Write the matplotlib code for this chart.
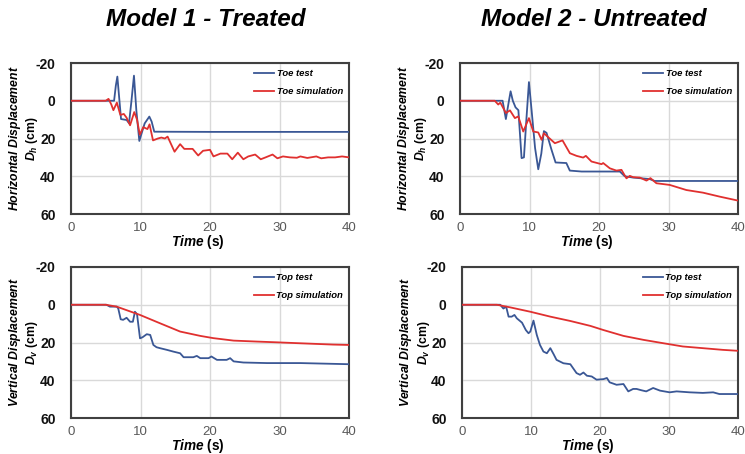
import matplotlib
matplotlib.use("Agg")
import matplotlib.pyplot as plt
from matplotlib import font_manager

names = {f.name for f in font_manager.fontManager.ttflist}
narrow = "Liberation Sans Narrow" if "Liberation Sans Narrow" in names else "Liberation Sans"

plt.rcParams['font.family'] = ['Liberation Sans', 'DejaVu Sans']
plt.rcParams['mathtext.fontset'] = 'custom'
plt.rcParams['mathtext.it'] = 'Liberation Sans:italic:bold'
plt.rcParams['mathtext.rm'] = 'Liberation Sans:bold'

# ---------------- data ----------------
titles = ["Model 1 - Treated", "Model 2 - Untreated"]
xticks = [0, 10, 20, 30, 40]
yticks = [-20, 0, 20, 40, 60]

# Model 1, toe (horizontal)
m1_toe_test_t = [0, 6.2, 6.45, 6.67, 6.9, 7.2, 8.0, 8.35, 8.7, 9.06, 9.4, 9.83, 10.1, 10.6, 11.27, 11.6, 11.98, 20, 30, 40]
m1_toe_test_v = [0, 0, -8, -12.8, -3, 9.7, 10.2, 11.9, 0, -13.3, 5, 21.3, 18, 12, 8.4, 11, 16.4, 16.5, 16.5, 16.5]
m1_toe_sim_t = [0, 5.0, 5.4, 5.8, 6.1, 6.6, 7.1, 7.6, 8.0, 8.5, 9.1, 9.5, 9.9, 10.4, 11.0, 11.3, 11.8, 12.5, 13.0, 13.5, 13.9, 14.9, 15.7, 16.3, 17.5, 18.3, 19.0, 20.0, 20.5, 21.5, 22.5, 23.2, 24.0, 24.8, 25.5, 26.5, 27.3, 28.0, 29.0, 29.7, 30.5, 31.5, 32.5, 33.0, 34.0, 35.3, 36.0, 37.0, 38.0, 39.0, 40.0]
m1_toe_sim_v = [0, 0, -1, 2, 5, 1, 7.5, 7, 9, 13, 6, 10, 18, 14, 15, 12.5, 21, 20, 19.5, 20, 19, 27, 23, 25.5, 25.5, 29, 26.5, 26, 29.5, 28, 28, 31, 27.5, 31, 29.5, 28.5, 31, 30, 28.5, 30.5, 29.5, 30, 30.2, 29.5, 30.3, 29.5, 30.5, 30, 30, 29.5, 30]

# Model 2, toe (horizontal)
m2_toe_test_t = [0, 6.13, 6.6, 6.95, 7.28, 7.6, 7.99, 8.4, 8.86, 9.2, 9.55, 9.92, 10.3, 10.8, 11.26, 11.7, 12.07, 12.45, 13.17, 13.75, 15.3, 15.8, 17.5, 23.0, 23.7, 24.9, 27.3, 28.0, 40.0]
m2_toe_test_v = [0, 0, 9.7, 2, -5, 0, 3.5, 5, 30.4, 30, 10, -9.9, 5, 25, 36.3, 28, 16.1, 17, 26, 32.7, 33, 37, 37.5, 37.5, 40, 40.7, 41.5, 42.5, 42.5]
m2_toe_sim_t = [0, 5.0, 5.5, 5.8, 6.61, 7.19, 7.90, 8.38, 9.10, 9.92, 10.54, 11.26, 11.74, 12.07, 12.69, 13.65, 14.75, 15.81, 16.77, 17.72, 18.11, 18.92, 20.36, 20.6, 21.56, 22.51, 23.23, 23.95, 24.43, 24.91, 25.87, 26.83, 27.4, 28.26, 30.18, 32.57, 34.97, 37.37, 40.0]
m2_toe_sim_v = [0, 0, 2, 1, 6.5, 5.1, 9.2, 8.3, 16.3, 9.2, 16.3, 16.8, 20.7, 17.2, 19.3, 22.5, 21, 27.8, 29.2, 30.1, 29.2, 32.2, 33.6, 33, 35.8, 37, 36.6, 41.1, 39.8, 40.5, 40.7, 42.3, 41, 43.7, 44.6, 47.3, 48.7, 50.8, 52.9]

# Model 1, top (vertical)
m1_top_test_t = [0, 5.1, 5.6, 6.6, 6.8, 7.15, 7.5, 8.0, 8.5, 8.9, 9.2, 9.5, 9.93, 10.3, 10.9, 11.4, 11.85, 12.3, 12.8, 13.8, 14.7, 15.7, 16.2, 17.6, 18.1, 18.6, 19.8, 20.2, 21.0, 22.4, 22.9, 23.4, 24.8, 28.2, 33.0, 40.0]
m1_top_test_v = [0, 0, 1, 1, 2, 7.7, 8, 6.9, 9.0, 9.0, 3.7, 5, 17.8, 17.2, 15.6, 16, 21.3, 22.5, 23, 23.9, 24.8, 25.7, 27.8, 27.8, 27.1, 28.3, 28.3, 27.4, 29.2, 29.2, 28.3, 30, 30.6, 30.9, 30.9, 31.5]
m1_top_sim_t = [0, 5.0, 6.57, 9.93, 12.8, 15.7, 18.6, 20.5, 23.4, 26.7, 29.6, 32.9, 37.7, 40.0]
m1_top_sim_v = [0, 0, 1, 5.4, 9.8, 14.2, 16.5, 17.7, 19, 19.5, 19.9, 20.4, 21.1, 21.3]

# Model 2, top (vertical)
m2_top_test_t = [0, 5.54, 6.0, 6.4, 6.75, 7.2, 7.6, 7.95, 8.7, 9.25, 9.64, 9.9, 10.36, 10.84, 11.3, 11.8, 12.3, 12.8, 13.25, 13.7, 14.7, 15.7, 16.1, 16.6, 17.1, 17.6, 18.1, 18.8, 19.5, 20.5, 21.0, 21.4, 22.4, 23.4, 24.1, 24.8, 25.3, 26.0, 26.7, 27.7, 28.7, 30.1, 31.1, 33.0, 34.9, 36.4, 37.3, 40.0]
m2_top_test_v = [0, 0, 2, 1, 6.3, 6.3, 5.4, 7.2, 9.5, 13.4, 15.1, 14.2, 8.4, 16, 21.3, 24.8, 25.7, 23, 26, 29.2, 31, 31.5, 33.6, 36.2, 37.1, 35.9, 37.6, 38, 39.7, 39.4, 38.8, 41.1, 42.4, 42, 45.9, 44.6, 44.6, 45.3, 45.9, 44.1, 45.5, 46.4, 45.9, 46.4, 46.7, 46.4, 47.3, 47.3]
m2_top_sim_t = [0, 5.06, 7.0, 9.9, 12.8, 15.7, 18.6, 20.5, 23.4, 26.3, 29.2, 32.0, 34.9, 37.8, 40.0]
m2_top_sim_v = [0, 0, 1.4, 3.7, 6.3, 8.6, 11.2, 13.4, 16.5, 18.6, 20.4, 22.1, 23, 23.9, 24.4]

# ---------------- figure ----------------
W, H = 745, 454
fig = plt.figure(figsize=(W / 100, H / 100), dpi=100)

BLUE = "#3a5795"
RED = "#e0302f"

def px_axes(l, t, r, b):
    return fig.add_axes([l / W, 1 - b / H, (r - l) / W, (b - t) / H])

panels = [
    dict(box=(71, 63, 349, 214), test=(m1_toe_test_t, m1_toe_test_v), sim=(m1_toe_sim_t, m1_toe_sim_v),
         labels=("Toe test", "Toe simulation"), ylab="Horizontal\\ Displacement", sub="D_h"),
    dict(box=(460, 63, 738, 214), test=(m2_toe_test_t, m2_toe_test_v), sim=(m2_toe_sim_t, m2_toe_sim_v),
         labels=("Toe test", "Toe simulation"), ylab="Horizontal\\ Displacement", sub="D_h"),
    dict(box=(71, 267, 349, 418), test=(m1_top_test_t, m1_top_test_v), sim=(m1_top_sim_t, m1_top_sim_v),
         labels=("Top test", "Top simulation"), ylab="Vertical\\ Displacement", sub="D_v"),
    dict(box=(462, 267, 738, 418), test=(m2_top_test_t, m2_top_test_v), sim=(m2_top_sim_t, m2_top_sim_v),
         labels=("Top test", "Top simulation"), ylab="Vertical\\ Displacement", sub="D_v"),
]

for p in panels:
    ax = px_axes(*p["box"])
    ax.plot(*p["test"], color=BLUE, lw=1.3, label=p["labels"][0], zorder=3)
    ax.plot(*p["sim"], color=RED, lw=1.3, label=p["labels"][1], zorder=3)
    ax.set_xlim(0, 40)
    ax.set_ylim(60, -20)
    ax.set_xticks(xticks)
    ax.set_yticks(yticks)
    ax.set_yticklabels([str(v) for v in yticks], fontweight="bold", fontsize=10, color="#111111")
    ax.set_xticklabels([str(v) for v in xticks], fontsize=9.5, color="#595959")
    ax.tick_params(axis="both", length=0)
    ax.tick_params(axis="y", pad=11)
    ax.tick_params(axis="x", pad=6)
    ax.grid(True, color="#d9d9d9", lw=1.0, zorder=0)
    ax.set_axisbelow(True)
    for s in ax.spines.values():
        s.set_color("#404040")
        s.set_linewidth(1.5)
    ax.set_xlabel("$Time$ (s)", fontsize=9.8, fontweight="bold", labelpad=0)
    ax.xaxis.set_label_coords(0.455, -0.128)
    ax.set_ylabel("$" + p["ylab"] + "$\n$" + p["sub"] + "$ (cm)", fontsize=8.8, fontweight="bold",
                  linespacing=1.15)
    ax.yaxis.set_label_coords(-0.11, 0.5)
    ax.legend(loc="upper right", frameon=False, handlelength=2.1, labelspacing=0.95,
              borderaxespad=0.25, handletextpad=0.25,
              prop=dict(family="Liberation Sans", style="italic", weight="bold", size=6.8))

fig.text(206 / W, 1 - 19 / H, titles[0], ha="center", va="center", fontsize=17.5,
         family=narrow, style="italic", weight="bold")
fig.text(594 / W, 1 - 19 / H, titles[1], ha="center", va="center", fontsize=17.5,
         family=narrow, style="italic", weight="bold")

fig.savefig("out.png", dpi=100)
